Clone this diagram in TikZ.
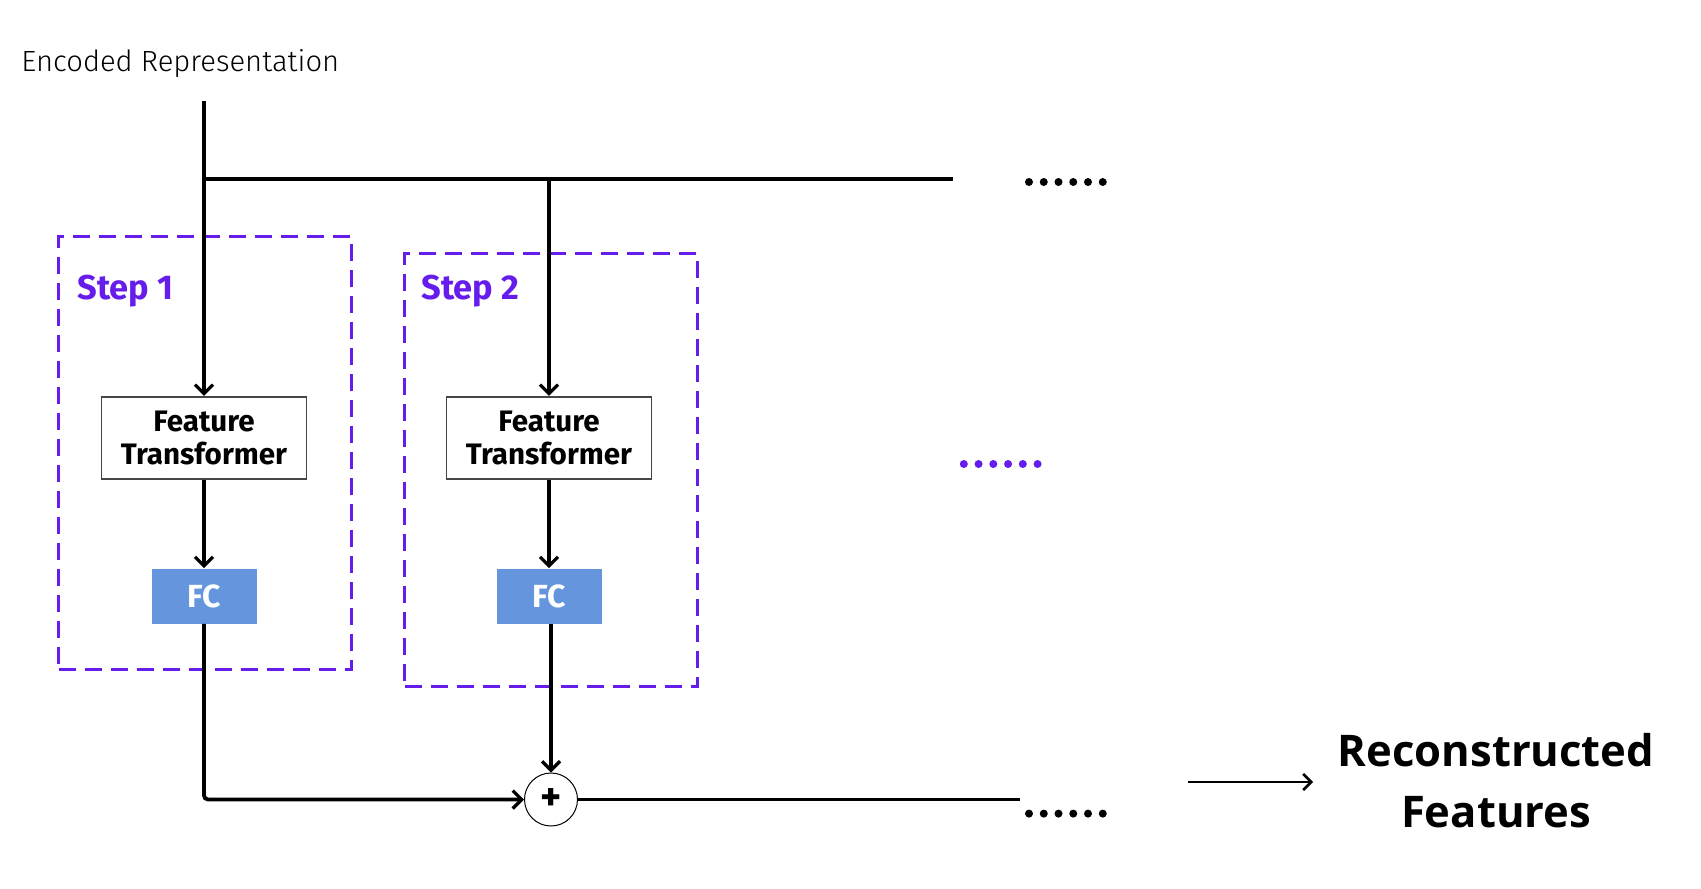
\documentclass[tikz,border=0pt]{standalone}
\usepackage{fontspec}
\setmainfont{Fira Sans}
\newfontfamily\lightfont{Fira Sans Light}
\newfontfamily\bigfont{Open Sans}
\usetikzlibrary{arrows.meta}
\definecolor{stepviolet}{RGB}{102,28,234}
\definecolor{fcblue}{RGB}{101,150,221}
\definecolor{boxgray}{RGB}{70,70,70}
\begin{document}
\begin{tikzpicture}[x=0.5pt,y=-0.5pt,
  wire/.style={line width=1.9pt, black},
  arr/.style={wire, -{Straight Barb[length=4.5pt,width=9pt,line width=1.6pt]}},
  thinarr/.style={line width=1.4pt, black, -{Straight Barb[length=4pt,width=8pt,line width=1.3pt]}},
  stepbox/.style={draw=stepviolet, line width=1.5pt, dash pattern=on 8.5pt off 4.5pt, minimum width=146.5pt, minimum height=216.75pt, inner sep=0pt},
  steplabel/.style={text=stepviolet, font=\fontsize{17.2}{18}\selectfont\bfseries, inner sep=0pt, anchor=west},
  ftbox/.style={draw=boxgray, line width=0.8pt, fill=white, minimum width=102.5pt, minimum height=41.25pt, align=center, inner sep=0pt, font=\fontsize{14.8}{16.3}\selectfont\bfseries},
  fcbox/.style={fill=fcblue, text=white, minimum width=52.5pt, minimum height=27.5pt, inner sep=0pt, font=\fontsize{16}{18}\selectfont\bfseries},
  sumnode/.style={circle, draw=black, line width=0.5pt, fill=white, minimum size=26.5pt, inner sep=0pt, font=\fontsize{20}{20}\selectfont\bfseries}
]
\useasboundingbox (0,0) rectangle (1701,888);

% step frames
\node[stepbox] (s1) at (205,453.2) {};
\node[stepbox] (s2) at (551,469.8) {};
\node[steplabel] (s1l) at (77,291) {Step 1};
\node[steplabel] (s2l) at (421,291) {Step 2};

% input label
\node[anchor=west, inner sep=0pt, font=\fontsize{14.6}{16}\lightfont] (enc) at (21,64) {Encoded Representation};

% blocks
\node[ftbox] (ft1) at (204,438) {Feature\\Transformer};
\node[ftbox] (ft2) at (549,438) {Feature\\Transformer};
\node[fcbox] (fc1) at (204,596) {FC};
\node[fcbox] (fc2) at (549,596) {FC};
\node[sumnode] (plus) at (551,799.5) {+};

% coordinates
\coordinate (inTop) at (204,101);
\coordinate (j1) at (204,179);
\coordinate (j2) at (549,179);
\coordinate (topEnd) at (953,179);
\coordinate (botEnd) at (1020,799.5);
\coordinate (outA) at (1188,782);
\coordinate (outB) at (1313,782);

% connectors
\draw[wire] (inTop) -- (j1);
\draw[wire] (j1) -- (topEnd);
\draw[arr] (j1) -- (ft1.north);
\draw[arr] (j2) -- (ft2.north);
\draw[arr] (ft1.south) -- (fc1.north);
\draw[arr] (ft2.south) -- (fc2.north);
\draw[arr, rounded corners=2pt] (fc1.south) |- (plus.west);
\draw[arr] (fc2.south -| plus.north) -- (plus.north);
\draw[wire] (plus.east) -- (botEnd);
\draw[thinarr] (outA) -- (outB);

% dots
\foreach \i in {0,...,5} {
  \fill[black] (1029+\i*14.75,182) circle (2pt);
  \fill[black] (1029+\i*14.75,813.6) circle (2pt);
  \fill[stepviolet] (963.8+\i*14.75,464) circle (2pt);
}

% output label
\node[align=center, inner sep=0pt, font=\fontsize{21.8}{30.4}\bigfont\bfseries] (rec) at (1496,781) {Reconstructed\\Features};
\end{tikzpicture}
\end{document}
